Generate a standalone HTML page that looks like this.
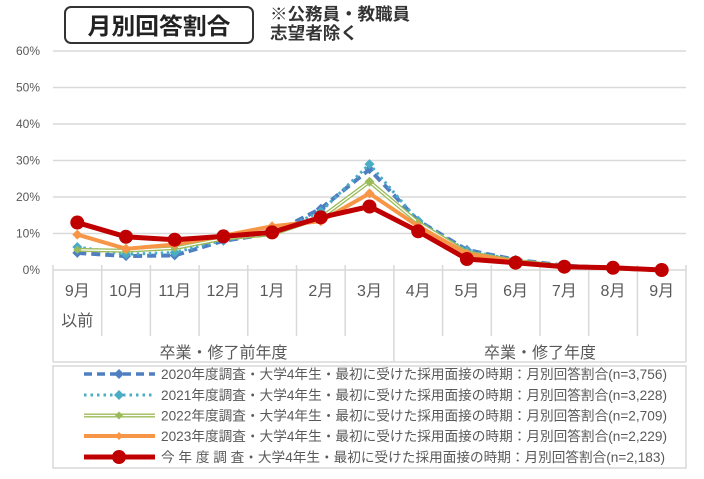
<!DOCTYPE html>
<html><head><meta charset="utf-8"><style>
html,body{margin:0;padding:0;background:#fff;width:704px;height:479px;overflow:hidden}
svg{display:block}
text{font-family:"Liberation Sans","Noto Sans CJK JP",sans-serif}
</style></head><body>
<svg width="704" height="479" viewBox="0 0 704 479" xmlns="http://www.w3.org/2000/svg">
<defs>
<path id="dm" d="M0,-5 L5,0 L0,5 L-5,0Z"/>
<path id="ds" d="M0,-4 L4,0 L0,4 L-4,0Z"/>
</defs>
<!-- title -->
<rect x="65" y="7" width="188" height="36" rx="6" ry="6" fill="#fff" stroke="#333" stroke-width="2"/>
<text x="159" y="34" text-anchor="middle" font-size="23" font-weight="bold" fill="#222" textLength="143" lengthAdjust="spacingAndGlyphs">月別回答割合</text>
<text x="270" y="20" font-size="17" font-weight="bold" fill="#333" textLength="140" lengthAdjust="spacingAndGlyphs">※公務員・教職員</text>
<text x="270" y="39" font-size="17" font-weight="bold" fill="#333" textLength="88" lengthAdjust="spacingAndGlyphs">志望者除く</text>
<!-- gridlines -->
<g stroke="#d9d9d9" stroke-width="1.5">
<line x1="53" y1="51" x2="686" y2="51"/>
<line x1="53" y1="87.5" x2="686" y2="87.5"/>
<line x1="53" y1="124" x2="686" y2="124"/>
<line x1="53" y1="160.5" x2="686" y2="160.5"/>
<line x1="53" y1="197" x2="686" y2="197"/>
<line x1="53" y1="233.5" x2="686" y2="233.5"/>
<line x1="53" y1="270" x2="686" y2="270"/>
<line x1="53" y1="362" x2="686" y2="362"/>
<line x1="53" y1="265" x2="53" y2="362"/>
<line x1="686" y1="265" x2="686" y2="362"/>
<line x1="101.7" y1="265" x2="101.7" y2="336"/>
<line x1="150.4" y1="265" x2="150.4" y2="336"/>
<line x1="199.1" y1="265" x2="199.1" y2="336"/>
<line x1="247.8" y1="265" x2="247.8" y2="336"/>
<line x1="296.5" y1="265" x2="296.5" y2="336"/>
<line x1="345.2" y1="265" x2="345.2" y2="336"/>
<line x1="393.9" y1="265" x2="393.9" y2="362"/>
<line x1="442.6" y1="265" x2="442.6" y2="336"/>
<line x1="491.3" y1="265" x2="491.3" y2="336"/>
<line x1="540" y1="265" x2="540" y2="336"/>
<line x1="588.7" y1="265" x2="588.7" y2="336"/>
<line x1="637.4" y1="265" x2="637.4" y2="336"/>
</g>
<!-- y labels -->
<g font-size="12" fill="#595959" text-anchor="end">
<text x="40" y="55">60%</text>
<text x="40" y="91.5">50%</text>
<text x="40" y="128">40%</text>
<text x="40" y="164.5">30%</text>
<text x="40" y="201">20%</text>
<text x="40" y="237.5">10%</text>
<text x="40" y="274">0%</text>
</g>
<!-- x labels -->
<g font-size="16" fill="#595959" text-anchor="middle">
<text x="77.3" y="296">9月</text>
<text x="77.3" y="326">以前</text>
<text x="126" y="296">10月</text>
<text x="174.7" y="296">11月</text>
<text x="223.4" y="296">12月</text>
<text x="272.1" y="296">1月</text>
<text x="320.8" y="296">2月</text>
<text x="369.5" y="296">3月</text>
<text x="418.2" y="296">4月</text>
<text x="466.9" y="296">5月</text>
<text x="515.6" y="296">6月</text>
<text x="564.3" y="296">7月</text>
<text x="613" y="296">8月</text>
<text x="661.7" y="296">9月</text>
<text x="223.5" y="358">卒業・修了前年度</text>
<text x="540" y="358">卒業・修了年度</text>
</g>
<!-- series: blue dashed 2020 -->
<polyline fill="none" stroke="#4f7fc0" stroke-width="4" stroke-dasharray="9,5" points="77.3,252.85 126,256.1 174.7,255.4 223.4,240.8 272.1,233.5 320.8,208.7 369.5,169.3 418.2,220.7 466.9,249.9 515.6,259.8 564.3,265.6 613,268.2 661.7,270"/>
<g fill="#4f7fc0">
<use href="#dm" x="77.3" y="252.85"/><use href="#dm" x="126" y="256.1"/><use href="#dm" x="174.7" y="255.4"/><use href="#dm" x="223.4" y="240.8"/><use href="#dm" x="272.1" y="233.5"/><use href="#dm" x="320.8" y="208.7"/><use href="#dm" x="369.5" y="169.3"/><use href="#dm" x="418.2" y="220.7"/><use href="#dm" x="466.9" y="249.9"/><use href="#dm" x="515.6" y="259.8"/><use href="#dm" x="564.3" y="265.6"/><use href="#dm" x="613" y="268.2"/>
</g>
<!-- teal dotted 2021 -->
<polyline fill="none" stroke="#4bacc6" stroke-width="3" stroke-dasharray="2.5,3.5" points="77.3,247 126,254.3 174.7,252.5 223.4,240.1 272.1,233.5 320.8,211.6 369.5,164.15 418.2,220.7 466.9,250.7 515.6,260.1 564.3,266 613,268.2 661.7,270"/>
<g fill="#4bacc6">
<use href="#dm" x="77.3" y="247"/><use href="#dm" x="126" y="254.3"/><use href="#dm" x="174.7" y="252.5"/><use href="#dm" x="223.4" y="240.1"/><use href="#dm" x="272.1" y="233.5"/><use href="#dm" x="320.8" y="211.6"/><use href="#dm" x="369.5" y="164.15"/><use href="#dm" x="418.2" y="220.7"/><use href="#dm" x="466.9" y="250.7"/><use href="#dm" x="515.6" y="260.1"/><use href="#dm" x="564.3" y="266"/><use href="#dm" x="613" y="268.2"/>
</g>
<!-- green double 2022 -->
<polyline fill="none" stroke="#9bbb59" stroke-width="4" points="77.3,249.9 126,250.7 174.7,248.1 223.4,238.6 272.1,234.2 320.8,217.8 369.5,181.7 418.2,222.55 466.9,252.5 515.6,260.9 564.3,266.35 613,268.5 661.7,270"/>
<polyline fill="none" stroke="#ffffff" stroke-width="1.3" points="77.3,249.9 126,250.7 174.7,248.1 223.4,238.6 272.1,234.2 320.8,217.8 369.5,181.7 418.2,222.55 466.9,252.5 515.6,260.9 564.3,266.35 613,268.5 661.7,270"/>
<g fill="#9bbb59">
<use href="#ds" x="77.3" y="249.9"/><use href="#ds" x="126" y="250.7"/><use href="#ds" x="174.7" y="248.1"/><use href="#ds" x="223.4" y="238.6"/><use href="#ds" x="272.1" y="234.2"/><use href="#ds" x="320.8" y="217.8"/><use href="#dm" x="369.5" y="181.7"/><use href="#ds" x="418.2" y="222.55"/><use href="#ds" x="466.9" y="252.5"/><use href="#ds" x="515.6" y="260.9"/><use href="#ds" x="564.3" y="266.35"/><use href="#ds" x="613" y="268.5"/>
</g>
<!-- orange 2023 -->
<polyline fill="none" stroke="#f79646" stroke-width="4" stroke-linejoin="round" points="77.3,234.6 126,248.8 174.7,244.45 223.4,235.7 272.1,226.2 320.8,221.1 369.5,193.35 418.2,226.2 466.9,253.6 515.6,261.6 564.3,266.7 613,268.2 661.7,270"/>
<g fill="#f79646">
<use href="#dm" x="77.3" y="234.6"/><use href="#dm" x="126" y="248.8"/><use href="#dm" x="174.7" y="244.45"/><use href="#dm" x="223.4" y="235.7"/><use href="#dm" x="272.1" y="226.2"/><use href="#dm" x="320.8" y="221.1"/><use href="#dm" x="369.5" y="193.35"/><use href="#dm" x="418.2" y="226.2"/><use href="#dm" x="466.9" y="253.6"/><use href="#dm" x="515.6" y="261.6"/><use href="#dm" x="564.3" y="266.7"/><use href="#dm" x="613" y="268.2"/>
</g>
<!-- red this year -->
<polyline fill="none" stroke="#c00000" stroke-width="5" stroke-linejoin="round" points="77.3,222.55 126,236.8 174.7,239.7 223.4,236.4 272.1,232.4 320.8,217.4 369.5,206.5 418.2,231.3 466.9,259.05 515.6,262.7 564.3,266.7 613,267.8 661.7,270"/>
<g fill="#c00000">
<circle cx="77.3" cy="222.55" r="7"/><circle cx="126" cy="236.8" r="7"/><circle cx="174.7" cy="239.7" r="7"/><circle cx="223.4" cy="236.4" r="7"/><circle cx="272.1" cy="232.4" r="7"/><circle cx="320.8" cy="217.4" r="7"/><circle cx="369.5" cy="206.5" r="7"/><circle cx="418.2" cy="231.3" r="7"/><circle cx="466.9" cy="259.05" r="7"/><circle cx="515.6" cy="262.7" r="7"/><circle cx="564.3" cy="266.7" r="7"/><circle cx="613" cy="267.8" r="7"/><circle cx="661.7" cy="270" r="7"/>
</g>
<!-- legend -->
<rect x="53" y="366" width="633" height="102" fill="#fff" stroke="#d9d9d9" stroke-width="1.5"/>
<line x1="84" y1="374" x2="155" y2="374" stroke="#4f7fc0" stroke-width="3.5" stroke-dasharray="8,5"/>
<use href="#dm" x="119" y="374" fill="#4f7fc0"/>
<line x1="84" y1="395" x2="155" y2="395" stroke="#4bacc6" stroke-width="3" stroke-dasharray="2.5,4"/>
<use href="#dm" x="119" y="395" fill="#4bacc6"/>
<line x1="84" y1="415.5" x2="155" y2="415.5" stroke="#9bbb59" stroke-width="4"/>
<line x1="84" y1="415.5" x2="155" y2="415.5" stroke="#fff" stroke-width="1.3"/>
<use href="#ds" x="119" y="415.5" fill="#9bbb59"/>
<line x1="84" y1="436" x2="155" y2="436" stroke="#f79646" stroke-width="4"/>
<use href="#ds" x="119" y="436" fill="#f79646"/>
<line x1="84" y1="457" x2="155" y2="457" stroke="#c00000" stroke-width="5"/>
<circle cx="119" cy="457" r="7" fill="#c00000"/>
<g font-size="13.5" fill="#595959">
<text x="161" y="379" textLength="506" lengthAdjust="spacingAndGlyphs">2020年度調査・大学4年生・最初に受けた採用面接の時期：月別回答割合(n=3,756)</text>
<text x="161" y="400" textLength="506" lengthAdjust="spacingAndGlyphs">2021年度調査・大学4年生・最初に受けた採用面接の時期：月別回答割合(n=3,228)</text>
<text x="161" y="420.5" textLength="506" lengthAdjust="spacingAndGlyphs">2022年度調査・大学4年生・最初に受けた採用面接の時期：月別回答割合(n=2,709)</text>
<text x="161" y="441" textLength="506" lengthAdjust="spacingAndGlyphs">2023年度調査・大学4年生・最初に受けた採用面接の時期：月別回答割合(n=2,229)</text>
<text x="161" y="462" textLength="504" lengthAdjust="spacingAndGlyphs">今 年 度 調 査・大学4年生・最初に受けた採用面接の時期：月別回答割合(n=2,183)</text>
</g>
</svg>
</body></html>
